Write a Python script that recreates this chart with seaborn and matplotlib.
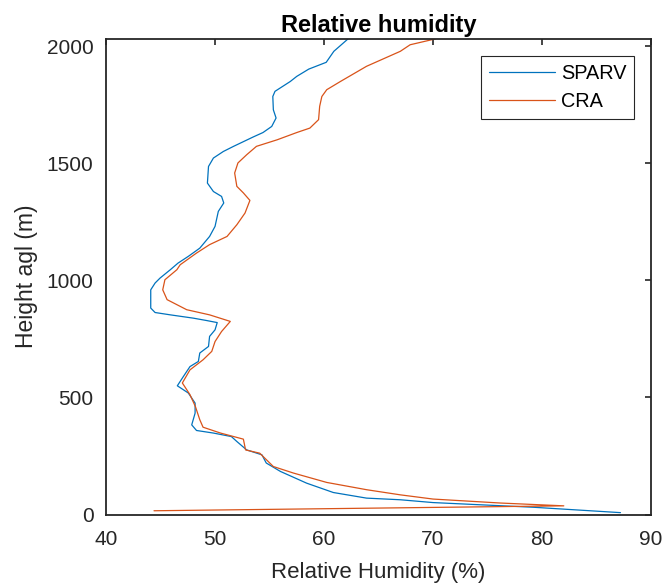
import numpy as np
import pandas as pd
import seaborn as sns
import matplotlib
matplotlib.use("Agg")
import matplotlib.pyplot as plt

sns.set_theme(style="white")
plt.rcParams['font.family'] = ['Liberation Sans', 'DejaVu Sans']

# SPARV profile (bottom -> top)
sparv_h = [8, 31, 51, 63, 70, 94, 134, 184, 220, 255, 276, 312, 333, 348, 359, 383,
           433, 476, 519, 550, 590, 632, 654, 690, 718, 761, 789, 820, 829, 839, 853,
           863, 882, 960, 989, 1010, 1046, 1074, 1103, 1138, 1188, 1231, 1295, 1331,
           1359, 1380, 1416, 1487, 1523, 1551, 1573, 1613, 1632, 1658, 1694, 1729,
           1786, 1808, 1850, 1872, 1903, 1932, 1979, 2032]
sparv_rh = [87.2, 79.2, 70.0, 67.0, 63.9, 60.85, 58.4, 56.0, 54.7, 54.3, 52.9, 52.0,
            51.5, 49.85, 48.3, 47.86, 48.17, 48.17, 47.55, 46.54, 47.1, 47.7, 48.47,
            48.6, 49.4, 49.5, 50.0, 50.2, 49.2, 48.0, 45.9, 44.5, 44.1, 44.1, 44.5,
            44.95, 45.9, 46.6, 47.55, 48.6, 49.5, 50.0, 50.3, 50.8, 50.6, 49.85, 49.3,
            49.4, 49.85, 50.76, 51.7, 53.5, 54.4, 55.2, 55.6, 55.35, 55.3, 55.5, 56.9,
            57.5, 58.6, 60.2, 60.9, 62.2]

# CRA profile (bottom -> top)
cra_h = [16, 37, 49, 66, 84, 106, 137, 177, 205, 262, 276, 322, 348, 373, 405, 461,
         512, 562, 618, 661, 697, 739, 782, 825, 853, 875, 918, 960, 1003, 1046, 1067,
         1117, 1153, 1188, 1238, 1288, 1342, 1374, 1402, 1459, 1502, 1537, 1573, 1601,
         1632, 1651, 1687, 1744, 1786, 1815, 1850, 1915, 1979, 2007, 2032]
cra_rh = [44.4, 82.0, 76.2, 70.0, 67.0, 63.9, 60.25, 57.2, 55.35, 54.1, 52.8, 52.6,
          50.5, 48.9, 48.6, 48.2, 47.7, 47.0, 47.7, 48.9, 49.7, 50.0, 50.6, 51.4, 49.5,
          47.4, 45.6, 45.2, 45.4, 46.5, 46.8, 48.3, 49.5, 51.1, 52.0, 52.75, 53.2, 52.6,
          52.0, 51.8, 52.1, 52.9, 53.8, 55.7, 57.5, 58.7, 59.5, 59.6, 59.8, 60.25, 61.5,
          63.9, 67.0, 67.9, 70.2]

xticks = [40, 50, 60, 70, 80, 90]
yticks = [0, 500, 1000, 1500, 2000]

fig = plt.figure(figsize=(6.67, 5.86), dpi=100)
ax = fig.add_axes([0.159, 0.122, 0.817, 0.812])

sns.lineplot(x=sparv_rh, y=sparv_h, sort=False, estimator=None, color='#0072BD',
             linewidth=0.9, label='SPARV', ax=ax)
sns.lineplot(x=cra_rh, y=cra_h, sort=False, estimator=None, color='#D95319',
             linewidth=0.9, label='CRA', ax=ax)

ax.set_xlim(40, 90)
ax.set_ylim(0, 2033)
ax.set_xticks(xticks)
ax.set_yticks(yticks)
ax.tick_params(direction='in', length=4.5, width=1.2, colors='#262626',
               labelsize=15, top=True, right=True)
ax.tick_params(axis='x', pad=11.5)
ax.tick_params(axis='y', pad=9)
for s in ax.spines.values():
    s.set_color('#262626')
    s.set_linewidth(1.3)

ax.set_title('Relative humidity', fontsize=17, fontweight='bold', color='black', pad=5)
ax.set_xlabel('Relative Humidity (%)', fontsize=16, color='#262626', labelpad=9)
ax.set_ylabel('Height agl (m)', fontsize=16.5, color='#262626', labelpad=6)

leg = ax.legend(loc='upper right', bbox_to_anchor=(0.969, 0.964), borderaxespad=0,
                fontsize=14.3, handlelength=3.3, handletextpad=0.3, frameon=True,
                fancybox=False, framealpha=1, edgecolor='#262626', borderpad=0.4,
                labelspacing=0.45)
leg.get_frame().set_linewidth(0.8)
for t in leg.get_texts():
    t.set_color('black')

fig.savefig('out.png', dpi=100)
